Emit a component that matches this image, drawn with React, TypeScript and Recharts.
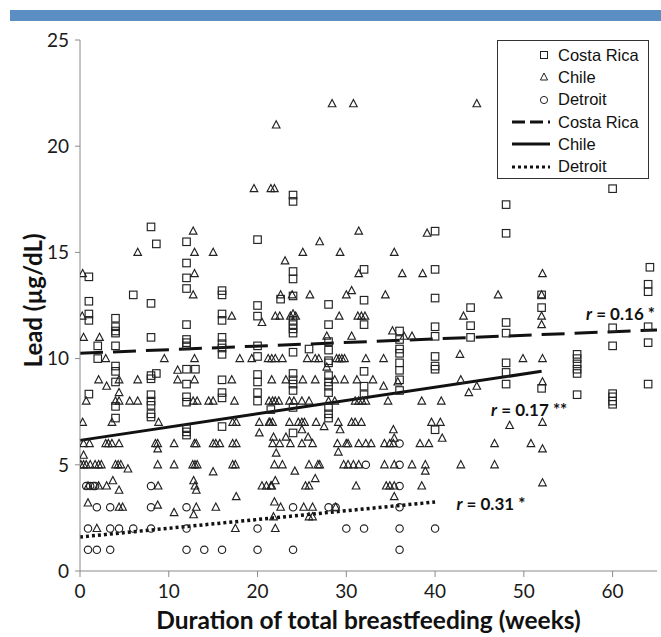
import { ScatterChart, Scatter, XAxis, YAxis, ReferenceLine, ReferenceDot } from 'recharts';

// [weeks, lead µg/dL]
const costaRica: [number, number][] = [
  [8, 16.2], [8.6, 15.4], [12, 15.5], [12, 14.5], [1, 13.85], [12, 13.8], [12, 13.3], [6, 13.0], [16, 13.2], [16, 13.0],
  [8, 12.6], [1, 12.7], [20, 12.5], [20, 15.6], [1, 12.1], [1, 11.8], [4, 11.9], [16, 12.1], [16, 11.8], [20, 12],
  [12, 11.6], [4, 11.5], [4, 11.3], [4, 11.2], [8, 11.0], [12, 10.9], [12, 10.75], [12, 10.6], [16, 11.0], [16, 10.7],
  [16, 10.5], [20, 10.6], [2, 10.6], [4, 10.6], [16, 10.2], [20, 10.1], [2, 10.0], [12, 9.5], [13, 9.5], [8.6, 9.3],
  [8, 9.2], [8, 9.05], [4, 9.65], [4, 9.4], [4, 8.9], [20, 9.25], [20, 8.9], [12, 8.8], [16, 9.0],
  [1, 8.33], [8, 8.3], [8, 8.0], [8, 7.8], [12, 8.2], [12, 7.95], [16, 8.4], [16, 8.15], [20, 8.4], [20, 8.0],
  [4, 7.75], [4, 7.2], [8, 7.4], [8, 7.25], [12, 6.7], [12, 6.55], [12, 6.4], [16, 6.8],
  [24, 17.7], [24, 17.4], [24, 14.1], [24, 13.75], [32, 14.2], [40, 14.2], [22.6, 12.8], [24, 12.95], [32, 12.75],
  [40, 12.85], [28, 12.55], [40, 16.0], [24, 11.8], [24, 11.6], [24, 11.4], [24, 11.2], [28, 11.6], [32, 11.6],
  [40, 11.5], [36, 11.3], [36, 10.9], [36, 10.45], [40, 11.05], [28, 10.8], [28, 10.4], [25.8, 10.45], [24, 10.3],
  [36, 10.25], [36, 9.8], [40, 10.1], [40, 9.65], [28, 9.9], [28, 9.8], [32, 9.4], [24, 9.3], [36, 9.45],
  [24, 9.0], [24, 8.8], [24, 8.5], [28, 9.2], [28, 8.9], [28, 8.7], [28, 8.4], [28, 7.7], [28, 7.4], [28, 7.2],
  [32, 8.7], [32, 8.3], [36, 9.0], [36, 8.5], [40, 9.5], [21.5, 7.6], [24, 7.7], [24, 6.5], [40, 6.65],
  [60, 18], [48, 17.25], [48, 15.9], [64, 13.5], [64, 13.15], [52, 13], [52, 12.4], [44, 12.4], [44, 11.55],
  [48, 11.7], [44, 11.0], [48, 11.2], [60, 11.45], [60, 10.6], [64, 11.5], [64, 10.75], [48, 9.8], [48, 9.35],
  [56, 10.2], [56, 10.0], [56, 9.75], [56, 9.5], [56, 9.3], [64.2, 14.3],
  [48, 8.8], [52, 8.6], [56, 8.3], [60, 8.35], [60, 8.2], [60, 8.0], [60, 7.85], [64, 8.8],
];

const chile: [number, number][] = [
  [28.4, 22], [30.8, 22], [44.7, 22], [22.1, 21], [19.6, 18], [21.5, 18], [21.9, 18],
  [12.75, 16], [6.5, 15], [12.9, 15], [15, 15], [0.3, 14], [12.9, 14], [12.75, 13], [0.25, 12], [17.1, 12],
  [20.5, 11.7], [0.4, 11], [2.2, 11], [9.5, 10], [18, 10], [19.35, 10], [21.2, 10], [2.9, 10], [12.9, 10], [11, 9.45],
  [31.4, 16], [39.1, 15.9], [27, 15.5], [25.1, 15], [29.3, 15], [35.4, 15], [23.1, 14.6], [31.4, 14], [36.3, 14],
  [38.6, 14], [22.6, 13], [23.9, 13], [25.9, 13], [30, 13], [30.6, 13.2], [34.4, 13], [22, 12], [22.5, 12],
  [23.7, 12], [24, 12.1], [24.3, 12], [29.2, 12], [31.3, 12], [31.7, 12], [32.1, 12], [35.2, 11.3], [36.5, 11.05],
  [37.4, 11.05], [27.8, 11.05], [30.6, 11.05], [21.6, 10], [22, 10], [22.8, 10], [25.6, 10], [26.5, 10], [26.9, 10],
  [28.9, 10], [29.2, 10], [29.5, 10], [29.8, 10], [32.2, 10], [34.2, 10], [27.8, 9.6],
  [52.1, 14], [52, 13], [47.1, 13], [52, 12], [43.2, 12], [52, 11.6], [42.8, 10.2], [49.9, 10], [52.1, 10],
  [42.9, 9], [43.8, 8.4], [44.7, 8.7], [52.1, 8.9], [40.7, 8], [40.6, 7], [40.8, 6.25], [48.4, 6.85], [52.1, 7],
  [46.7, 6], [50.8, 6], [52.1, 5.75], [42.9, 5], [46.7, 5], [52.1, 4.15],
  [2.1, 9], [4.4, 9], [6.5, 9], [11, 9], [12.9, 9], [17.1, 9], [3, 8.7], [4.4, 8.4],
  [0.7, 8], [4, 8], [4.4, 8], [5.6, 8], [6.5, 8], [12.75, 8], [13.2, 8], [14.5, 8], [15, 8], [17.4, 8],
  [3.6, 7], [0.3, 7], [8.85, 7], [17.2, 7], [17.6, 7], [20.2, 7], [20.2, 6.5], [21.4, 7],
  [0.4, 6], [1.07, 6], [2.9, 6], [3.2, 6], [3.6, 6], [4.4, 6], [8.5, 6], [8.75, 6], [10.6, 6], [12.9, 6], [13.1, 6],
  [15, 6], [15.3, 6], [15.75, 6], [17.2, 6], [17.6, 6], [8.75, 5.75], [0.4, 5.45],
  [0.1, 5], [0.4, 5], [0.7, 5], [1.15, 5], [1.7, 5], [2.1, 5], [2.4, 5], [4, 5], [4.3, 5], [4.6, 5], [5.4, 4.8],
  [8.75, 5], [10.6, 5], [12.7, 5], [12.95, 5], [13.2, 5], [15, 4.67], [17.2, 5], [17.5, 5],
  [0.9, 4], [2.1, 4], [3, 4], [3.7, 4.25], [4.4, 3.8], [8.8, 4], [12.8, 4.25], [12.95, 4], [13.1, 3.8], [21.6, 4],
  [0.9, 3.2], [4.4, 3], [4.8, 3], [8.75, 3.1], [10.6, 2.75], [13.1, 3], [12.8, 2.65], [15.3, 3], [17.6, 3.5],
  [1.9, 2], [17.5, 2],
  [21.6, 9], [23.2, 9], [25.1, 9], [26.5, 9], [28.7, 9], [29.8, 9], [31.2, 9], [33, 9], [34.2, 8.7], [35.8, 8.9],
  [21.3, 8], [21.7, 8], [22, 8], [22.4, 8], [23.6, 8], [24.1, 8], [25, 8], [25.8, 8], [28, 8], [28.7, 8],
  [31, 8], [31.4, 8], [31.8, 8], [32.2, 8], [34.7, 8], [38.5, 8],
  [21.3, 7], [21.7, 7], [23.6, 7], [24.6, 7], [25, 7], [25.3, 7], [26.6, 7], [29.1, 7], [30.6, 7], [31, 7],
  [31.7, 7], [39.6, 7], [27.5, 6.8], [25, 6.65], [29.3, 6.65], [35.3, 6.65], [21.8, 6.3], [23.2, 6.3], [25.7, 6.3],
  [21.7, 6], [22.5, 6], [23.7, 6], [25, 6], [26.2, 6], [29, 6], [30, 6], [30.2, 6], [31.4, 6], [32.2, 6], [32.8, 6],
  [34.3, 6], [34.9, 6], [35.3, 6], [38.3, 6], [39.3, 6], [22.1, 5.55], [29.1, 5.6], [35.4, 6.25],
  [21.9, 5], [22.8, 5], [25.8, 5], [26.8, 5], [27, 5], [29.7, 5], [30.2, 5], [30.8, 5], [31.4, 5], [34.3, 5],
  [35.4, 5], [37.4, 5], [38.9, 5], [24.2, 4.7], [38.9, 4.7], [26.5, 4.35],
  [20.5, 4], [21, 4], [21.5, 4], [22, 4.25], [25.4, 4], [25.8, 4], [31.1, 4], [34.5, 4], [34.9, 4], [35.4, 4],
  [38.5, 4], [21.9, 3.25], [35.4, 3.5],
  [22.6, 3], [25.2, 3], [26.2, 3], [28.8, 3], [25.8, 2.55], [26.2, 2.55], [21.8, 2.55], [22, 2],
];

const detroit: [number, number][] = [
  [0.7, 4], [1.15, 4], [1.5, 4], [1.7, 4], [8, 4], [1.9, 3], [3.4, 3], [8, 3], [12, 3],
  [0.9, 2], [3.4, 2], [4.4, 2], [6, 2], [8, 2], [12, 2], [20, 2],
  [0.9, 1], [1.9, 1], [3.4, 1], [12, 1], [14, 1], [16, 1], [20, 1],
  [36, 6], [32.2, 5], [36, 5], [36, 4], [24, 3], [28, 3], [28.8, 3], [36, 3],
  [30, 2], [32, 2], [36, 2], [40, 2], [24, 1], [36, 1],
];

// regression lines: [weeks, lead] end points
const costaRicaFit: [number, number][] = [[0, 10.25], [65, 11.35]];
const chileFit: [number, number][] = [[0, 6.15], [52, 9.4]];
const detroitFit: [number, number][] = [[0, 1.6], [40, 3.25]];

const rLabels = [
  { r: '0.16 *', at: [57, 11.8] },
  { r: '0.17 **', at: [46.3, 7.3] },
  { r: '0.31 *', at: [42.4, 2.85] },
];

const xTicks = [0, 10, 20, 30, 40, 50, 60];
const yTicks = [0, 5, 10, 15, 20, 25];

const toPts = (arr: [number, number][]) => arr.map(([x, y]) => ({ x, y }));

const INK = '#222';
const TITLE_FONT = 'Lato, sans-serif';

const SquareDot = (p: any) => (
  <rect x={p.cx - 3.75} y={p.cy - 3.75} width={7.5} height={7.5} fill="none" stroke={INK} strokeWidth={1.15} />
);
const TriDot = (p: any) => (
  <polygon
    points={`${p.cx},${p.cy - 4.2} ${p.cx - 3.8},${p.cy + 3} ${p.cx + 3.8},${p.cy + 3}`}
    fill="none"
    stroke={INK}
    strokeWidth={1.15}
  />
);
const CircleDot = (p: any) => <circle cx={p.cx} cy={p.cy} r={3.7} fill="none" stroke={INK} strokeWidth={1.15} />;

const RLabel = (text: string) => (props: any) => {
  const { viewBox } = props;
  return (
    <text x={viewBox.x} y={viewBox.y} fontFamily={TITLE_FONT} fontWeight="bold" fontSize={17} fill="#111">
      <tspan fontStyle="italic">r</tspan>
      {` = ${text}`}
    </text>
  );
};

const XTitle = (props: any) => {
  const { viewBox } = props;
  return (
    <text
      x={viewBox.x + viewBox.width / 2}
      y={viewBox.y + 58}
      textAnchor="middle"
      fontFamily={TITLE_FONT}
      fontWeight="bold"
      fontSize={24.5}
      fill="#111"
    >
      Duration of total breastfeeding (weeks)
    </text>
  );
};

const YTitle = (props: any) => {
  const { viewBox } = props;
  const cx = 42;
  const cy = viewBox.y + viewBox.height / 2 - 5;
  return (
    <text
      x={cx}
      y={cy}
      transform={`rotate(-90 ${cx} ${cy})`}
      textAnchor="middle"
      fontFamily={TITLE_FONT}
      fontWeight="bold"
      fontSize={24}
      fill="#111"
    >
      Lead (µg/dL)
    </text>
  );
};

const legendRows = [
  { kind: 'square', label: 'Costa Rica' },
  { kind: 'triangle', label: 'Chile' },
  { kind: 'circle', label: 'Detroit' },
  { kind: 'dash', label: 'Costa Rica' },
  { kind: 'solid', label: 'Chile' },
  { kind: 'dot', label: 'Detroit' },
];

const LegendBox = () => (
  <div
    style={{
      position: 'absolute',
      left: 497,
      top: 40,
      width: 152,
      height: 139,
      border: '1.5px solid #333',
      background: '#fff',
      boxSizing: 'border-box',
      paddingTop: 3,
    }}
  >
    {legendRows.map((row, i) => (
      <div key={i} style={{ display: 'flex', alignItems: 'center', height: 22.3 }}>
        <svg width={50} height={14} style={{ marginLeft: 10 }}>
          {row.kind === 'square' && <rect x={32.5} y={3.5} width={7} height={7} fill="none" stroke={INK} />}
          {row.kind === 'triangle' && <polygon points="36,3 32.4,10 39.6,10" fill="none" stroke={INK} />}
          {row.kind === 'circle' && <circle cx={36} cy={7} r={3.6} fill="none" stroke={INK} />}
          {row.kind === 'dash' && <line x1={4} y1={7} x2={42} y2={7} stroke="#111" strokeWidth={3} strokeDasharray="13 5" />}
          {row.kind === 'solid' && <line x1={4} y1={7} x2={42} y2={7} stroke="#111" strokeWidth={3} />}
          {row.kind === 'dot' && <line x1={4} y1={7} x2={42} y2={7} stroke="#111" strokeWidth={3} strokeDasharray="3 3" />}
        </svg>
        <span style={{ fontFamily: '"Liberation Sans", Arial, sans-serif', fontSize: 16.5, color: '#111' }}>
          {row.label}
        </span>
      </div>
    ))}
  </div>
);

export default function App() {
  return (
    <div style={{ position: 'absolute', left: 0, top: 0, width: 661, height: 637, background: '#fff' }}>
      <div style={{ position: 'absolute', left: 10, top: 10, width: 651, height: 11, background: '#5b8fc4' }} />
      <ScatterChart width={661} height={637} margin={{ top: 40, right: 4, bottom: 0, left: 0 }}>
        <XAxis
          type="number"
          dataKey="x"
          domain={[0, 65]}
          ticks={xTicks}
          allowDataOverflow
          stroke="#8a8a8a"
          tickSize={6}
          tickMargin={8}
          height={66}
          tick={{ fill: '#1a1a1a', fontSize: 19, fontFamily: TITLE_FONT }}
          label={XTitle}
        />
        <YAxis
          type="number"
          dataKey="y"
          domain={[0, 25]}
          ticks={yTicks}
          allowDataOverflow
          stroke="#8a8a8a"
          width={80}
          tickSize={5}
          tickMargin={6}
          tick={{ fill: '#1a1a1a', fontSize: 19, fontFamily: TITLE_FONT }}
          label={YTitle}
        />
        <Scatter name="Costa Rica" data={toPts(costaRica)} shape={SquareDot} isAnimationActive={false} />
        <Scatter name="Chile" data={toPts(chile)} shape={TriDot} isAnimationActive={false} />
        <Scatter name="Detroit" data={toPts(detroit)} shape={CircleDot} isAnimationActive={false} />
        <ReferenceLine segment={toPts(costaRicaFit)} stroke="#111" strokeWidth={3} strokeDasharray="23 10" ifOverflow="visible" />
        <ReferenceLine segment={toPts(chileFit)} stroke="#111" strokeWidth={3} ifOverflow="visible" />
        <ReferenceLine segment={toPts(detroitFit)} stroke="#111" strokeWidth={3.5} strokeDasharray="3 3" ifOverflow="visible" />
        {rLabels.map((l) => (
          <ReferenceDot key={l.r} x={l.at[0]} y={l.at[1]} r={0} fill="none" stroke="none" label={RLabel(l.r)} />
        ))}
      </ScatterChart>
      <LegendBox />
    </div>
  );
}
